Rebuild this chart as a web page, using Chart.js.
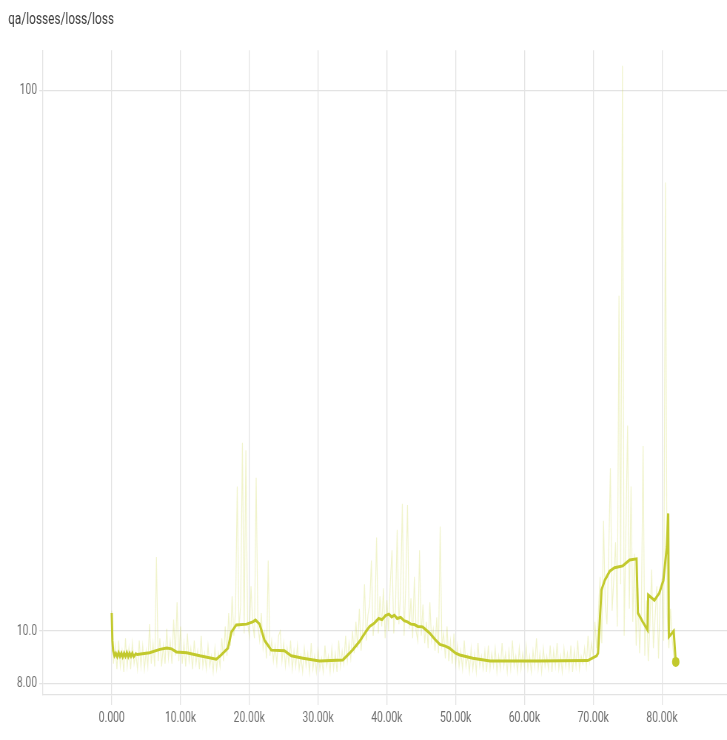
<!DOCTYPE html>
<html>
<head>
<meta charset="utf-8">
<script src="https://cdn.jsdelivr.net/npm/chart.js@4/dist/chart.umd.min.js"></script>
<style>
  html, body { margin: 0; padding: 0; background: #fff; overflow: hidden; }
  #wrap { width: 982px; height: 740px; transform: scaleX(0.7403); transform-origin: 0 0; }
</style>
</head>
<body>
<div id="wrap"><canvas id="c" width="982" height="740"></canvas></div>
<script>
// Tick positions and labels
const xTickValues = [0, 10000, 20000, 30000, 40000, 50000, 60000, 70000, 80000];
const xTickLabels = ['0.000', '10.00k', '20.00k', '30.00k', '40.00k', '50.00k', '60.00k', '70.00k', '80.00k'];
const yTickValues = [8, 10, 100];
const yTickLabels = ['8.00', '10.0', '100'];

// Raw loss, logged every 250 steps starting at step 0 (one row per 5k steps)
const rawStride = 250;
const rawLoss = [
  10.9, 8.7, 9.4, 8.5, 9.6, 8.6, 9.2, 8.4, 9.7, 8.6, 9.3, 8.5, 9.5, 8.7, 9.1, 8.5, 9.6, 8.6, 9.4, 8.5,
  9.2, 8.6, 10.3, 8.7, 9.5, 8.6, 13.7, 8.8, 9.7, 8.6, 9.4, 8.7, 10.1, 8.9, 9.6, 8.7, 10.5, 9.0, 11.3, 8.8,
  10.2, 8.7, 9.5, 8.6, 9.9, 8.8, 9.3, 8.5, 9.6, 8.7, 9.2, 8.5, 9.8, 8.6, 9.1, 8.5, 9.4, 8.6, 9.0, 8.4,
  9.3, 8.5, 9.1, 8.6, 9.7, 8.8, 10.2, 9.0, 10.8, 9.4, 11.6, 9.8, 10.9, 18.5, 10.1, 11.2, 22.3, 9.9, 21.6, 10.4,
  9.8, 12.1, 10.3, 9.7, 19.2, 10.2, 9.6, 10.8, 9.3, 9.9, 8.9, 13.5, 9.0, 9.6, 8.8, 9.4, 8.7, 9.8, 10.0, 8.8,
  9.5, 8.6, 9.3, 8.7, 9.6, 8.5, 9.2, 8.6, 9.4, 8.5, 9.0, 8.4, 9.3, 8.6, 9.1, 8.4, 9.5, 8.5, 9.0, 8.4,
  9.2, 8.5, 8.9, 8.4, 9.4, 8.6, 9.0, 8.4, 9.3, 8.5, 9.1, 8.4, 9.6, 8.6, 9.2, 8.7, 9.8, 8.8, 9.5, 8.9,
  10.0, 9.1, 10.4, 9.3, 11.0, 9.2, 10.1, 12.2, 9.6, 10.7, 11.2, 13.5, 9.8, 10.5, 14.9, 9.9, 11.6, 10.2, 12.0, 9.7,
  11.4, 10.0, 12.3, 14.1, 9.9, 11.0, 15.4, 10.3, 11.8, 17.2, 9.8, 12.1, 17.1, 10.1, 11.5, 9.7, 12.6, 10.0, 9.6, 14.1,
  9.8, 11.2, 9.5, 10.4, 9.3, 11.3, 9.6, 10.1, 9.2, 10.6, 9.1, 15.6, 9.4, 9.9, 8.9, 10.2, 8.8, 9.6, 8.7, 9.9,
  8.7, 9.4, 8.6, 9.2, 8.5, 9.6, 8.6, 9.0, 8.4, 9.3, 8.5, 9.1, 8.4, 9.5, 8.6, 9.0, 8.5, 9.2, 8.4, 9.4,
  8.5, 9.1, 8.6, 9.3, 8.4, 9.0, 8.5, 9.5, 8.6, 9.1, 8.4, 9.2, 8.5, 9.6, 8.6, 9.0, 8.4, 9.3, 8.5, 9.1,
  8.6, 9.4, 8.5, 9.0, 8.4, 9.2, 8.6, 9.7, 8.5, 9.1, 8.4, 9.3, 8.6, 9.0, 8.5, 9.4, 8.4, 9.2, 8.6, 9.5,
  8.5, 9.0, 8.4, 9.3, 8.6, 9.1, 8.5, 9.4, 8.4, 9.2, 8.6, 9.6, 8.5, 9.0, 8.7, 9.3, 8.6, 9.8, 8.8, 9.5,
  9.0, 10.4, 9.3, 10.8, 12.6, 9.5, 16.0, 11.2, 10.3, 13.8, 20.0, 10.9, 12.5, 14.6, 10.2, 41.7, 12.2, 111, 9.8, 15.3,
  24.0, 11.0, 18.5, 10.4, 13.9, 9.4, 12.0, 9.1, 10.8, 22.0, 9.0, 11.4, 8.8, 10.3, 13.0, 9.3, 10.6, 12.1, 8.9, 11.7,
  12.5, 9.6, 67.5, 10.8, 9.3, 11.0, 9.6, 8.9, 8.8
];

// Smoothed loss
const smoothSteps = [
  0, 100, 200, 400, 600, 800, 1000, 1200, 1400, 1600, 1800, 2000, 2200, 2400, 2600, 2800, 3000, 3200, 3500, 3700,
  5500, 7000, 8000, 8700, 9400, 10900, 12800, 15200, 15700, 16900, 17400, 18100, 19600, 20500, 20900, 21500,
  22200, 22700, 23200, 25100, 26100, 27800, 30200, 33600, 35000, 36000, 37000, 37500, 38200, 38800, 39300,
  39800, 40300, 40700, 41100, 41500, 42000, 42500, 43000, 43500, 44000, 44500, 45200, 46200, 47000, 47700,
  48500, 49100, 50000, 50600, 52500, 55000, 62000, 69200, 70500, 70700, 71200, 71700, 72400, 73100, 74300,
  75300, 76300, 76500, 77200, 77900, 78000, 78900, 79600, 80200, 80700, 80900, 81000, 81700, 82000
];
const smoothLoss = [
  10.8, 9.6, 9.2, 9.0, 9.1, 8.97, 9.12, 8.98, 9.1, 8.96, 9.1, 8.98, 9.12, 8.97, 9.1, 8.98, 9.1, 8.97, 9.08, 9.05,
  9.12, 9.25, 9.3, 9.27, 9.15, 9.12, 9.0, 8.87, 8.98, 9.3, 9.96, 10.26, 10.3, 10.4, 10.48, 10.3,
  9.62, 9.42, 9.22, 9.2, 9.0, 8.91, 8.8, 8.84, 9.22, 9.56, 10.0, 10.2, 10.35, 10.55, 10.5,
  10.68, 10.75, 10.62, 10.7, 10.55, 10.6, 10.45, 10.4, 10.3, 10.28, 10.2, 10.18, 9.92, 9.65, 9.45,
  9.38, 9.3, 9.1, 9.03, 8.91, 8.8, 8.8, 8.82, 9.0, 9.1, 11.9, 12.43, 12.9, 13.1, 13.2,
  13.53, 13.6, 10.8, 10.4, 10.05, 11.66, 11.4, 11.75, 12.4, 14.3, 16.5, 9.76, 10.0, 8.77
];

const rawPoints = rawLoss.map((v, i) => ({ x: i * rawStride, y: v }));
const smoothPoints = smoothSteps.map((s, i) => ({ x: s, y: smoothLoss[i] }));
const lastIndex = smoothPoints.length - 1;

const gridColor = '#e3e3e3';
const tickFont = { family: 'Roboto, "Liberation Sans", sans-serif', size: 14 };

new Chart(document.getElementById('c'), {
  type: 'line',
  data: {
    datasets: [
      {
        label: 'smoothed',
        data: smoothPoints,
        borderColor: 'rgb(194, 201, 45)',
        backgroundColor: 'rgb(194, 201, 45)',
        borderWidth: 3,
        tension: 0,
        pointRadius: smoothPoints.map((p, i) => (i === lastIndex ? 5 : 0)),
        pointBorderWidth: 0,
        fill: false
      },
      {
        label: 'raw',
        data: rawPoints,
        borderColor: 'rgba(200, 210, 60, 0.27)',
        borderWidth: 1.2,
        tension: 0,
        pointRadius: 0,
        fill: false
      }
    ]
  },
  options: {
    responsive: false,
    animation: false,
    devicePixelRatio: 1,
    layout: { autoPadding: false, padding: { left: 11, right: 0, top: 0, bottom: 0 } },
    plugins: {
      legend: { display: false },
      tooltip: { enabled: false },
      title: {
        display: true,
        text: 'qa/losses/loss/loss',
        align: 'start',
        color: '#3a3a3a',
        font: { family: 'Roboto, "Liberation Sans", sans-serif', size: 16, weight: 'normal' },
        padding: { top: 10, bottom: 21 }
      }
    },
    scales: {
      x: {
        type: 'linear',
        min: -10000,
        max: 89450,
        afterBuildTicks: (scale) => { scale.ticks = xTickValues.map(v => ({ value: v })); },
        afterFit: (scale) => { scale.height = 45; scale.paddingLeft = 0; scale.paddingRight = 0; },
        ticks: {
          autoSkip: false,
          maxRotation: 0,
          color: '#6f6f6f',
          font: tickFont,
          padding: 5,
          callback: (value) => xTickLabels[xTickValues.indexOf(value)]
        },
        grid: { color: gridColor, lineWidth: 1.3, tickLength: 10, drawTicks: true },
        border: { display: true, color: gridColor, width: 1.3 }
      },
      y: {
        type: 'logarithmic',
        min: 7.617,
        max: 118.6,
        afterBuildTicks: (scale) => { scale.ticks = yTickValues.map(v => ({ value: v })); },
        afterFit: (scale) => { scale.width = 47; scale.paddingTop = 0; scale.paddingBottom = 0; },
        ticks: {
          autoSkip: false,
          color: '#6f6f6f',
          font: tickFont,
          padding: 3,
          callback: (value) => yTickLabels[yTickValues.indexOf(value)]
        },
        grid: { color: gridColor, lineWidth: 1.3, tickLength: 5, drawTicks: true },
        border: { display: true, color: gridColor, width: 1.3 }
      }
    }
  }
});
</script>
</body>
</html>
